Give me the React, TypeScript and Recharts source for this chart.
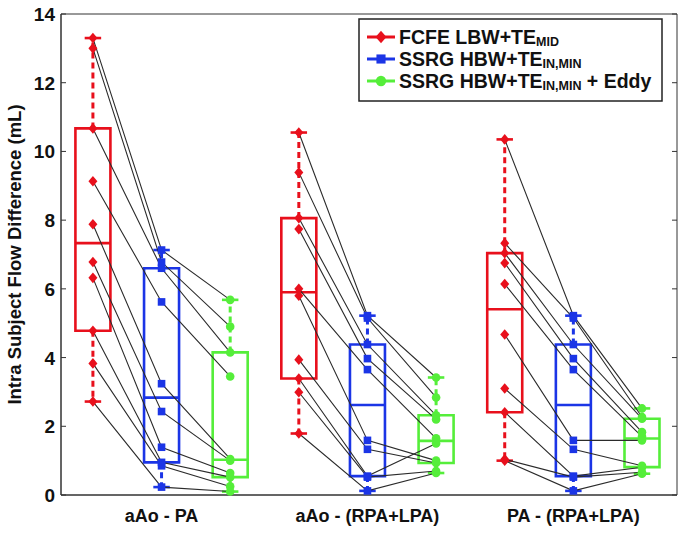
import React from 'react';
import { ComposedChart, Scatter, XAxis, YAxis, ReferenceArea, ReferenceLine } from 'recharts';

const groups = ['aAo - PA', 'aAo - (RPA+LPA)', 'PA - (RPA+LPA)'];
const methodNames = ['FCFE LBW+TE', 'SSRG HBW+TE', 'SSRG HBW+TE'];
const methodSubs = ['MID', 'IN,MIN', 'IN,MIN'];
const methodTails = ['', '', ' + Eddy'];
const methodColors = ['#e8101c', '#1b35e6', '#55ee3a'];
const yTicks = [0, 2, 4, 6, 8, 10, 12, 14];

// one row per comparison, subjects in the same order in every array
const fcfe = [
  [13.3, 13.0, 10.67, 9.13, 7.88, 6.78, 6.32, 4.78, 3.83, 2.72],
  [10.55, 9.39, 8.06, 7.74, 6.0, 5.8, 3.94, 3.39, 2.99, 1.79],
  [10.35, 7.33, 7.04, 6.75, 6.14, 4.67, 3.1, 2.41, 1.04, 1.0],
];
const ssrg = [
  [7.13, 6.78, 6.6, 5.62, 3.24, 2.43, 1.39, 0.95, 0.85, 0.23],
  [5.22, 5.15, 4.38, 3.97, 3.65, 1.59, 1.33, 0.55, 0.52, 0.12],
  [5.22, 5.15, 4.38, 3.97, 3.65, 1.59, 1.33, 0.55, 0.52, 0.12],
];
const eddy = [
  [5.68, 4.9, 4.15, 3.45, 1.05, 1.0, 0.64, 0.52, 0.25, 0.1],
  [3.42, 2.84, 2.32, 2.2, 1.65, 1.0, 0.93, 1.5, 0.7, 0.64],
  [2.52, 2.27, 2.22, 1.83, 1.7, 1.59, 0.85, 0.81, 0.66, 0.62],
];

const methods = [fcfe, ssrg, eddy];

const W = 685;
const H = 540;
const PLOT_L = 61;
const PLOT_R = 677;
const X_DOMAIN: [number, number] = [0.535, 9.51];
const BOX_HALF = 0.255;
const CAP_HALF = 0.12;
const FONT = "'Liberation Sans', Arial, Helvetica, sans-serif";

const xPos = (g: number, m: number) => g * 3 + m + 1;

// matlab style percentile
function prctile(sorted: number[], p: number) {
  const n = sorted.length;
  const pos = p * n + 0.5;
  if (pos <= 1) return sorted[0];
  if (pos >= n) return sorted[n - 1];
  const lo = Math.floor(pos);
  const f = pos - lo;
  return sorted[lo - 1] + f * (sorted[lo] - sorted[lo - 1]);
}

function boxStats(values: number[]) {
  const s = [...values].sort((a, b) => a - b);
  const q1 = prctile(s, 0.25);
  const med = prctile(s, 0.5);
  const q3 = prctile(s, 0.75);
  const iqr = q3 - q1;
  const lo = s.filter((v) => v >= q1 - 1.5 * iqr)[0];
  const hiList = s.filter((v) => v <= q3 + 1.5 * iqr);
  const hi = hiList[hiList.length - 1];
  return { q1, med, q3, lo, hi };
}

const Marker = ({ cx, cy, m, size = 1 }: { cx: number; cy: number; m: number; size?: number }) => {
  const c = methodColors[m];
  if (m === 0) {
    const r = 5.3 * size;
    return <polygon points={`${cx},${cy - r} ${cx + r * 0.85},${cy} ${cx},${cy + r} ${cx - r * 0.85},${cy}`} fill={c} />;
  }
  if (m === 1) {
    const r = 3.8 * size;
    return <rect x={cx - r} y={cy - r} width={2 * r} height={2 * r} fill={c} />;
  }
  return <circle cx={cx} cy={cy} r={4.3 * size} fill={c} />;
};

const XTick = (props: any) => {
  const { x, payload } = props;
  const g = Math.round((payload.value - 2) / 3);
  return (
    <text x={x} y={522} textAnchor="middle" fontFamily={FONT} fontWeight="bold" fontSize={18} fill="#111">
      {groups[g]}
    </text>
  );
};

const YTick = (props: any) => {
  const { y, payload } = props;
  return (
    <g>
      <text x={55} y={y} dy={7} textAnchor="end" fontFamily={FONT} fontWeight="bold" fontSize={19} fill="#111">
        {payload.value}
      </text>
      <line x1={PLOT_L} x2={PLOT_L + 5} y1={y} y2={y} stroke="#333" />
      <line x1={PLOT_R - 5} x2={PLOT_R} y1={y} y2={y} stroke="#333" />
    </g>
  );
};

const YLabel = (props: any) => {
  const vb = props.viewBox || { y: 14, height: 481 };
  const cy = vb.y + vb.height / 2;
  return (
    <text
      x={21}
      y={cy}
      transform={`rotate(-90, 21, ${cy})`}
      textAnchor="middle"
      fontFamily={FONT}
      fontWeight="bold"
      fontSize={18.5}
      fill="#111"
    >
      Intra Subject Flow Difference (mL)
    </text>
  );
};

const LegendBox = () => (
  <svg width={305} height={84} style={{ position: 'absolute', left: 358, top: 18 }}>
    <rect x={1} y={1} width={303} height={82} fill="#fff" stroke="#222" strokeWidth={1.5} />
    {methodNames.map((name, m) => {
      const base = 26 + m * 22;
      const my = base - 7;
      return (
        <g key={m}>
          <line x1={9} x2={37} y1={my} y2={my} stroke={methodColors[m]} strokeWidth={3} />
          <Marker cx={23} cy={my} m={m} size={1.2} />
          <text x={41} y={base} fontFamily={FONT} fontWeight="bold" fontSize={19.5} fill="#111">
            {name}
            <tspan fontSize={12.5} dy={2}>{methodSubs[m]}</tspan>
            <tspan dy={-2}>{methodTails[m]}</tspan>
          </text>
        </g>
      );
    })}
  </svg>
);

export default function App() {
  const stats = groups.map((_, g) => methods.map((vals) => boxStats(vals[g])));

  return (
    <div style={{ position: 'absolute', left: 0, top: 0, width: W, height: H, background: '#fff' }}>
      <ComposedChart width={W} height={H} margin={{ top: 14, right: W - PLOT_R, bottom: 0, left: 0 }}>
        <XAxis
          type="number"
          dataKey="x"
          domain={X_DOMAIN}
          ticks={[2, 5, 8]}
          tick={<XTick />}
          tickLine={false}
          axisLine={{ stroke: '#333' }}
          allowDataOverflow
          height={45}
        />
        <YAxis
          type="number"
          dataKey="y"
          domain={[0, 14]}
          ticks={yTicks}
          width={61}
          tickLine={false}
          tick={<YTick />}
          axisLine={{ stroke: '#333' }}
          label={{ content: <YLabel /> }}
        />
        <ReferenceArea
          x1={X_DOMAIN[0]}
          x2={X_DOMAIN[1]}
          y1={0}
          y2={14}
          fill="none"
          fillOpacity={0}
          stroke="#333"
          strokeWidth={1}
          ifOverflow="visible"
        />

        {/* subject lines */}
        {groups.map((_, g) =>
          fcfe[g].map((_, i) => (
            <Scatter
              key={`l-${g}-${i}`}
              data={methods.map((vals, m) => ({ x: xPos(g, m), y: vals[g][i] }))}
              line={{ stroke: '#2b2b2b', strokeWidth: 1.1 }}
              shape={() => <g />}
              legendType="none"
              isAnimationActive={false}
            />
          ))
        )}

        {/* boxes */}
        {stats.map((row, g) =>
          row.map((s, m) => {
            const x = xPos(g, m);
            const c = methodColors[m];
            return (
              <React.Fragment key={`b-${g}-${m}`}>
                <ReferenceLine
                  segment={[{ x, y: s.q3 }, { x, y: s.hi }]}
                  stroke={c}
                  strokeWidth={3}
                  strokeDasharray="6 4"
                  ifOverflow="visible"
                />
                <ReferenceLine
                  segment={[{ x, y: s.q1 }, { x, y: s.lo }]}
                  stroke={c}
                  strokeWidth={3}
                  strokeDasharray="6 4"
                  ifOverflow="visible"
                />
                <ReferenceLine
                  segment={[{ x: x - CAP_HALF, y: s.hi }, { x: x + CAP_HALF, y: s.hi }]}
                  stroke={c}
                  strokeWidth={2.6}
                  ifOverflow="visible"
                />
                <ReferenceLine
                  segment={[{ x: x - CAP_HALF, y: s.lo }, { x: x + CAP_HALF, y: s.lo }]}
                  stroke={c}
                  strokeWidth={2.6}
                  ifOverflow="visible"
                />
                <ReferenceArea
                  x1={x - BOX_HALF}
                  x2={x + BOX_HALF}
                  y1={s.q1}
                  y2={s.q3}
                  fill="none"
                  fillOpacity={0}
                  stroke={c}
                  strokeWidth={2.6}
                  ifOverflow="visible"
                />
                <ReferenceLine
                  segment={[{ x: x - BOX_HALF, y: s.med }, { x: x + BOX_HALF, y: s.med }]}
                  stroke={c}
                  strokeWidth={2.6}
                  ifOverflow="visible"
                />
              </React.Fragment>
            );
          })
        )}

        {/* points */}
        {groups.map((_, g) =>
          methods.map((vals, m) => (
            <Scatter
              key={`p-${g}-${m}`}
              data={vals[g].map((v) => ({ x: xPos(g, m), y: v }))}
              shape={(p: any) => <Marker cx={p.cx} cy={p.cy} m={m} />}
              legendType="none"
              isAnimationActive={false}
            />
          ))
        )}
      </ComposedChart>
      <LegendBox />
    </div>
  );
}
